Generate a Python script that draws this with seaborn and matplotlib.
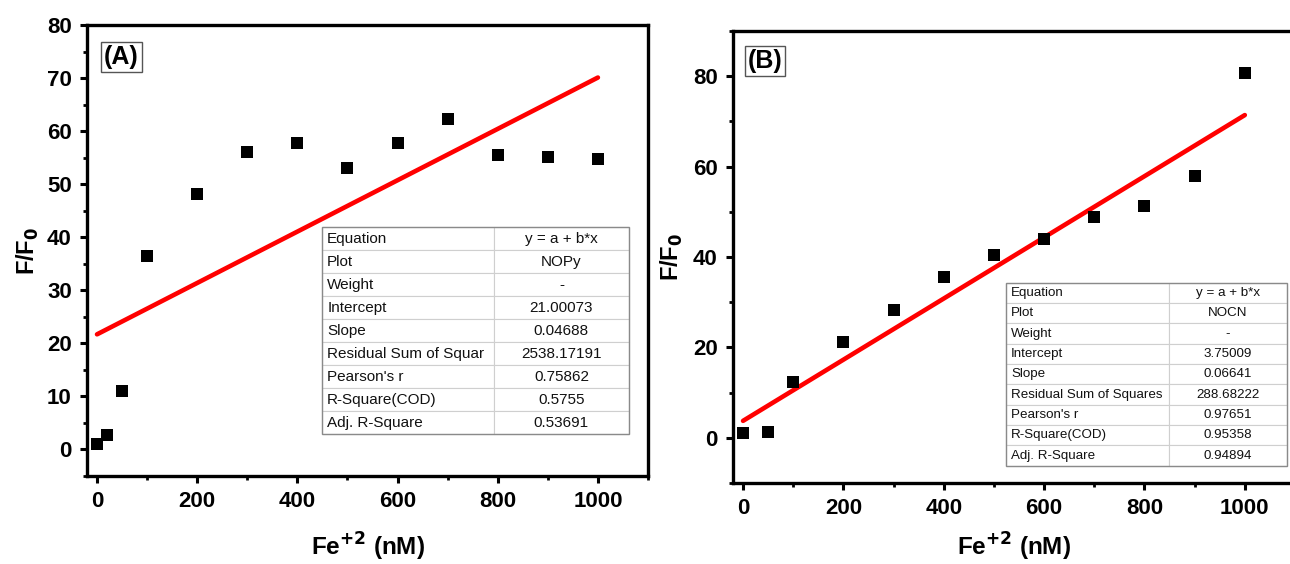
import matplotlib
matplotlib.use("Agg")
import matplotlib.pyplot as plt
from matplotlib.ticker import MultipleLocator
import seaborn as sns
import pandas as pd

# ---------------- data ----------------
conc_a = [0, 20, 50, 100, 200, 300, 400, 500, 600, 700, 800, 900, 1000]
ratio_a = [1.0, 2.8, 11.0, 36.4, 48.2, 56.0, 57.8, 53.0, 57.8, 62.2, 55.5, 55.1, 54.8]
fit_x_a = [0, 1000]
fit_y_a = [21.7, 70.1]

conc_b = [0, 50, 100, 200, 300, 400, 500, 600, 700, 800, 900, 1000]
ratio_b = [1.1, 1.3, 12.3, 21.2, 28.2, 35.5, 40.5, 43.9, 48.9, 51.3, 57.9, 80.6]
fit_x_b = [0, 1000]
fit_y_b = [3.75, 71.4]

row_labels = ["Equation", "Plot", "Weight", "Intercept", "Slope",
              "Residual Sum of Squar", "Pearson's r", "R-Square(COD)", "Adj. R-Square"]
row_labels_b = ["Equation", "Plot", "Weight", "Intercept", "Slope",
                "Residual Sum of Squares", "Pearson's r", "R-Square(COD)", "Adj. R-Square"]
values_a = ["y = a + b*x", "NOPy", "-", "21.00073", "0.04688", "2538.17191",
            "0.75862", "0.5755", "0.53691"]
values_b = ["y = a + b*x", "NOCN", "-", "3.75009", "0.06641", "288.68222",
            "0.97651", "0.95358", "0.94894"]

xticks = [0, 200, 400, 600, 800, 1000]

# ---------------- style ----------------
sns.set_style("ticks")
plt.rcParams['font.family'] = ['Liberation Sans', 'DejaVu Sans']
for k in ["text.color", "axes.labelcolor", "xtick.color", "ytick.color", "axes.edgecolor"]:
    plt.rcParams[k] = "black"

fig = plt.figure(figsize=(12.9, 5.64), dpi=100)
fig.patch.set_facecolor("white")

W, H = 1290, 564
def pos(l, t, r, b):
    return [l / W, 1 - b / H, (r - l) / W, (b - t) / H]

ax_a = fig.add_axes(pos(87, 25, 648, 476))
ax_b = fig.add_axes(pos(733, 31, 1295, 483))

df_a = pd.DataFrame({"x": conc_a, "y": ratio_a})
df_b = pd.DataFrame({"x": conc_b, "y": ratio_b})
fa = pd.DataFrame({"x": fit_x_a, "y": fit_y_a})
fb = pd.DataFrame({"x": fit_x_b, "y": fit_y_b})

for ax, df, fdf in [(ax_a, df_a, fa), (ax_b, df_b, fb)]:
    sns.lineplot(data=fdf, x="x", y="y", ax=ax, color="#ff0000", linewidth=3.3,
                 solid_capstyle="round", zorder=2)
    sns.scatterplot(data=df, x="x", y="y", ax=ax, marker="s", s=66, color="black",
                    linewidth=0, zorder=3)

def style_axes(ax, ylim, ymaj, ymin, xpad, ypad):
    ax.set_xlim(-20, 1100)
    ax.set_ylim(*ylim)
    ax.set_xticks(xticks)
    ax.xaxis.set_minor_locator(MultipleLocator(100))
    ax.yaxis.set_major_locator(MultipleLocator(ymaj))
    ax.yaxis.set_minor_locator(MultipleLocator(ymin))
    for s in ax.spines.values():
        s.set_linewidth(2.4)
        s.set_color("black")
    ax.tick_params(axis="both", which="major", direction="out", length=5, width=2.2,
                   labelsize=16, pad=6, top=False, right=False, colors="black")
    ax.tick_params(axis="both", which="minor", direction="out", length=3, width=2.0,
                   top=False, right=False, colors="black")
    for lab in ax.get_xticklabels() + ax.get_yticklabels():
        lab.set_fontweight("bold")
    ax.set_xlabel("Fe$^{\\mathbf{+2}}$ (nM)", fontsize=17.5, fontweight="bold",
                  labelpad=xpad, color="black")
    ax.set_ylabel("F/F$_{\\mathbf{0}}$", fontsize=17, fontweight="bold", labelpad=ypad,
                  color="black")
    ax.set_facecolor("white")

style_axes(ax_a, (-5, 80), 10, 5, 13, 4)
style_axes(ax_b, (-10, 90), 20, 10, 8, 6)

# panel labels
for ax, txt, xy in [(ax_a, "(A)", (0.061, 0.93)), (ax_b, "(B)", (0.057, 0.933))]:
    ax.text(xy[0], xy[1], txt, transform=ax.transAxes, ha="center", va="center",
            fontsize=18, fontweight="bold", color="black",
            bbox=dict(boxstyle="square,pad=0.12", facecolor="white",
                      edgecolor="#555555", linewidth=1.0), zorder=5)

def add_table(ax, labels, vals, bbox, col0frac, fs):
    cells = [[l, v] for l, v in zip(labels, vals)]
    tb = ax.table(cellText=cells, bbox=bbox, cellLoc="left",
                  colWidths=[col0frac, 1 - col0frac], zorder=4)
    tb.auto_set_font_size(False)
    tb.set_fontsize(fs)
    for (r, c), cell in tb.get_celld().items():
        cell.set_edgecolor("#cfcfcf")
        cell.set_linewidth(0.8)
        cell.set_facecolor("white")
        cell.get_text().set_color("#111111")
        if c == 1:
            cell.get_text().set_ha("center")
            cell._loc = "center"
        else:
            cell.PAD = 0.03
    x0, y0, w, h = bbox
    ax.add_patch(plt.Rectangle((x0, y0), w, h, transform=ax.transAxes, fill=False,
                               edgecolor="#8a8a8a", linewidth=1.0, zorder=6))
    return tb

add_table(ax_a, row_labels, values_a, [0.419, 0.093, 0.547, 0.459], 0.56, 11)
add_table(ax_b, row_labels_b, values_b, [0.486, 0.038, 0.5, 0.405], 0.58, 9.6)

fig.savefig("out.png", dpi=100, facecolor="white")
